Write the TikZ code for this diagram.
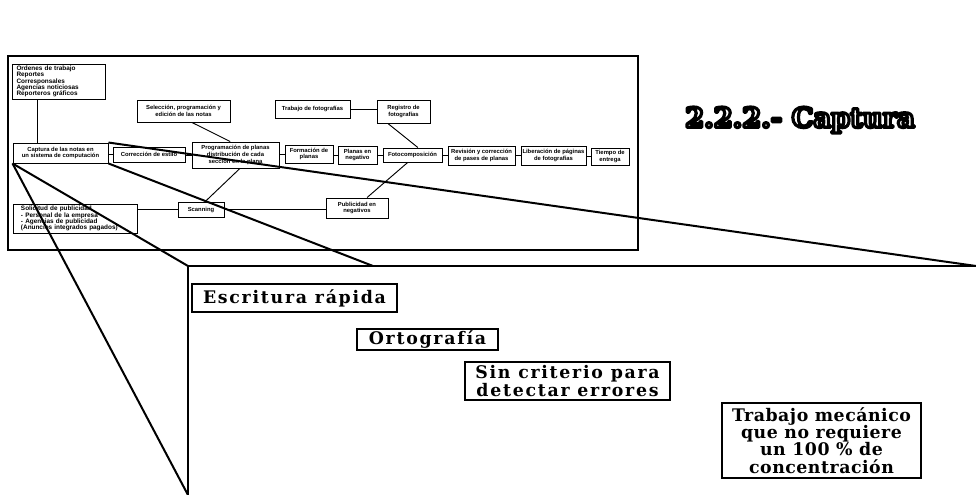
\documentclass[tikz,border=0pt]{standalone}
\usepackage{fontspec}
\usetikzlibrary{calc}
\newfontfamily\sbf{Liberation Sans}
\newfontfamily\serbf{DejaVu Serif}[LetterSpace=10]
\newfontfamily\serbfn{DejaVu Serif}[LetterSpace=3]
\newfontfamily\titf{DejaVu Serif}
\newcommand\outlinedtext[1]{{\color{white}\special{pdf:literal direct 2 Tr 2.4 w 0 G 1 j}#1\special{pdf:literal direct 0 Tr}}}
\begin{document}
\begin{tikzpicture}[x=0.75pt,y=-0.75pt,
  sb/.style={draw, line width=0.7pt, inner sep=0pt, font=\sbf\bfseries\fontsize{4.4}{5}\selectfont, align=center},
  lb/.style={draw, line width=0.7pt, inner ysep=0pt, font=\sbf\bfseries\fontsize{4.8}{4.7}\selectfont, align=left},
  bb/.style={draw, line width=1pt, inner sep=0pt, font=\serbf\bfseries\fontsize{13}{13}\selectfont, align=center},
  ln/.style={line width=0.7pt},
  cl/.style={line width=1.5pt}]
\useasboundingbox (0,0) rectangle (976,495);
\node[draw, line width=1.2pt, inner sep=0pt, minimum width=472.5pt, minimum height=145.5pt] (frame) at (323,153) {};
% small boxes
\node[lb, text width=63pt, inner xsep=3.375pt, minimum height=26.25pt] (ord) at (58.5,81.5) {Ordenes de trabajo\\Reportes\\Corresponsales\\Agencias noticiosas\\Reporteros gráficos};
\node[sb, minimum width=71.25pt, minimum height=15pt] (cap) at (60.5,153) {Captura de las notas en\\un sistema de computación};
\node[sb, minimum width=54pt, minimum height=11.25pt] (cor) at (149,154.5) {Corrección de estilo};
\node[sb, minimum width=69.75pt, minimum height=16.5pt] (sel) at (183.5,111) {Selección, programación y\\edición de las notas};
\node[sb, minimum width=65.25pt, minimum height=19.5pt] (prog) at (235.5,155) {Programación de planas\\distribución de cada\\sección en la plana};
\node[sb, minimum width=56.25pt, minimum height=13.5pt] (tfo) at (312.5,109) {Trabajo de fotografías};
\node[sb, minimum width=39.75pt, minimum height=17.25pt] (reg) at (403.5,111.5) {Registro de\\fotografías};
\node[sb, minimum width=36pt, minimum height=13.5pt] (form) at (309,154) {Formación de\\planas};
\node[sb, minimum width=29.25pt, minimum height=13.5pt] (plan) at (357.5,155) {Planas en\\negativo};
\node[sb, minimum width=44.25pt, minimum height=10.5pt] (foto) at (412.5,155) {Fotocomposición};
\node[sb, minimum width=50.25pt, minimum height=14.25pt] (rev) at (481.5,155.5) {Revisión y corrección\\de pases de planas};
\node[sb, minimum width=48.75pt, minimum height=14.25pt] (lib) at (553.5,155.5) {Liberación de páginas\\de fotografías};
\node[sb, minimum width=28.5pt, minimum height=12.75pt] (tiem) at (610,156.5) {Tiempo de\\entrega};
\node[sb, minimum width=46.5pt, minimum height=15pt] (pub) at (357,208) {Publicidad en\\negativos};
\node[sb, minimum width=34.5pt, minimum height=11.25pt] (scan) at (201,209.5) {Scanning};
\node[lb, text width=81pt, inner xsep=6pt, minimum height=21.75pt] (sol) at (75,218.5) {Solicitud de publicidad\\- Personal de la empresa\\- Agencias de publicidad\\(Anuncios integrados pagados)};
% connectors
\draw[ln] ($(ord.south west)!.28!(ord.south east)$) coordinate (oa) -- (oa |- cap.north);
\draw[ln] ($(sel.south west)!.59!(sel.south east)$) -- ($(prog.north west)!.44!(prog.north east)$);
\draw[ln] (tfo.east) -- (tfo.east -| reg.west);
\draw[ln] ($(reg.south west)!.21!(reg.south east)$) -- ($(foto.north west)!.59!(foto.north east)$);
\draw[ln] ($(foto.south west)!.42!(foto.south east)$) -- ($(pub.north west)!.66!(pub.north east)$);
\draw[ln] ($(prog.south west)!.55!(prog.south east)$) -- ($(scan.north west)!.59!(scan.north east)$);
\draw[ln] (scan.west -| sol.east) -- (scan.west);
\draw[ln] (scan.east) -- (scan.east -| pub.west);
\foreach \a/\b in {cap/cor,cor/prog,prog/form,form/plan,plan/foto,foto/rev,rev/lib,lib/tiem}
  \draw[ln] (\b.west -| \a.east) -- (\b.west);
% title
\node[font=\titf\bfseries\fontsize{20.5}{20}\selectfont, inner sep=0pt] (tit) at (800,120) {\outlinedtext{2.2.2.- Captura}};
% callout
\coordinate (zr) at (976,266);
\coordinate (ztl) at (188,266);
\coordinate (zbl) at (188,495);
\coordinate (zm) at (373,266);
\draw[cl] (zr) -- (ztl) -- (zbl);
\draw[cl] (cap.north east) -- (zr);
\draw[cl] (cap.south east) -- (zm);
\draw[cl] (cap.south west) -- (ztl);
\draw[cl] (cap.south west) -- (zbl);
% zoomed boxes
\node[bb, minimum width=153.75pt, minimum height=21pt] (esc) at (294.5,298) {Escritura rápida};
\node[bb, minimum width=105.75pt, minimum height=15.75pt] (ort) at (427.5,339.5) {Ortografía};
\node[bb, minimum width=153.75pt, minimum height=28.5pt, font=\serbf\bfseries\fontsize{13}{12.5}\selectfont] (sin) at (567.5,381) {Sin criterio para\\detectar errores};
\node[bb, minimum width=149.25pt, minimum height=56.25pt, font=\serbfn\bfseries\fontsize{13}{13}\selectfont] (tra) at (821.5,440.5) {Trabajo mecánico\\que no requiere\\un 100 \% de\\concentración};
\end{tikzpicture}
\end{document}
